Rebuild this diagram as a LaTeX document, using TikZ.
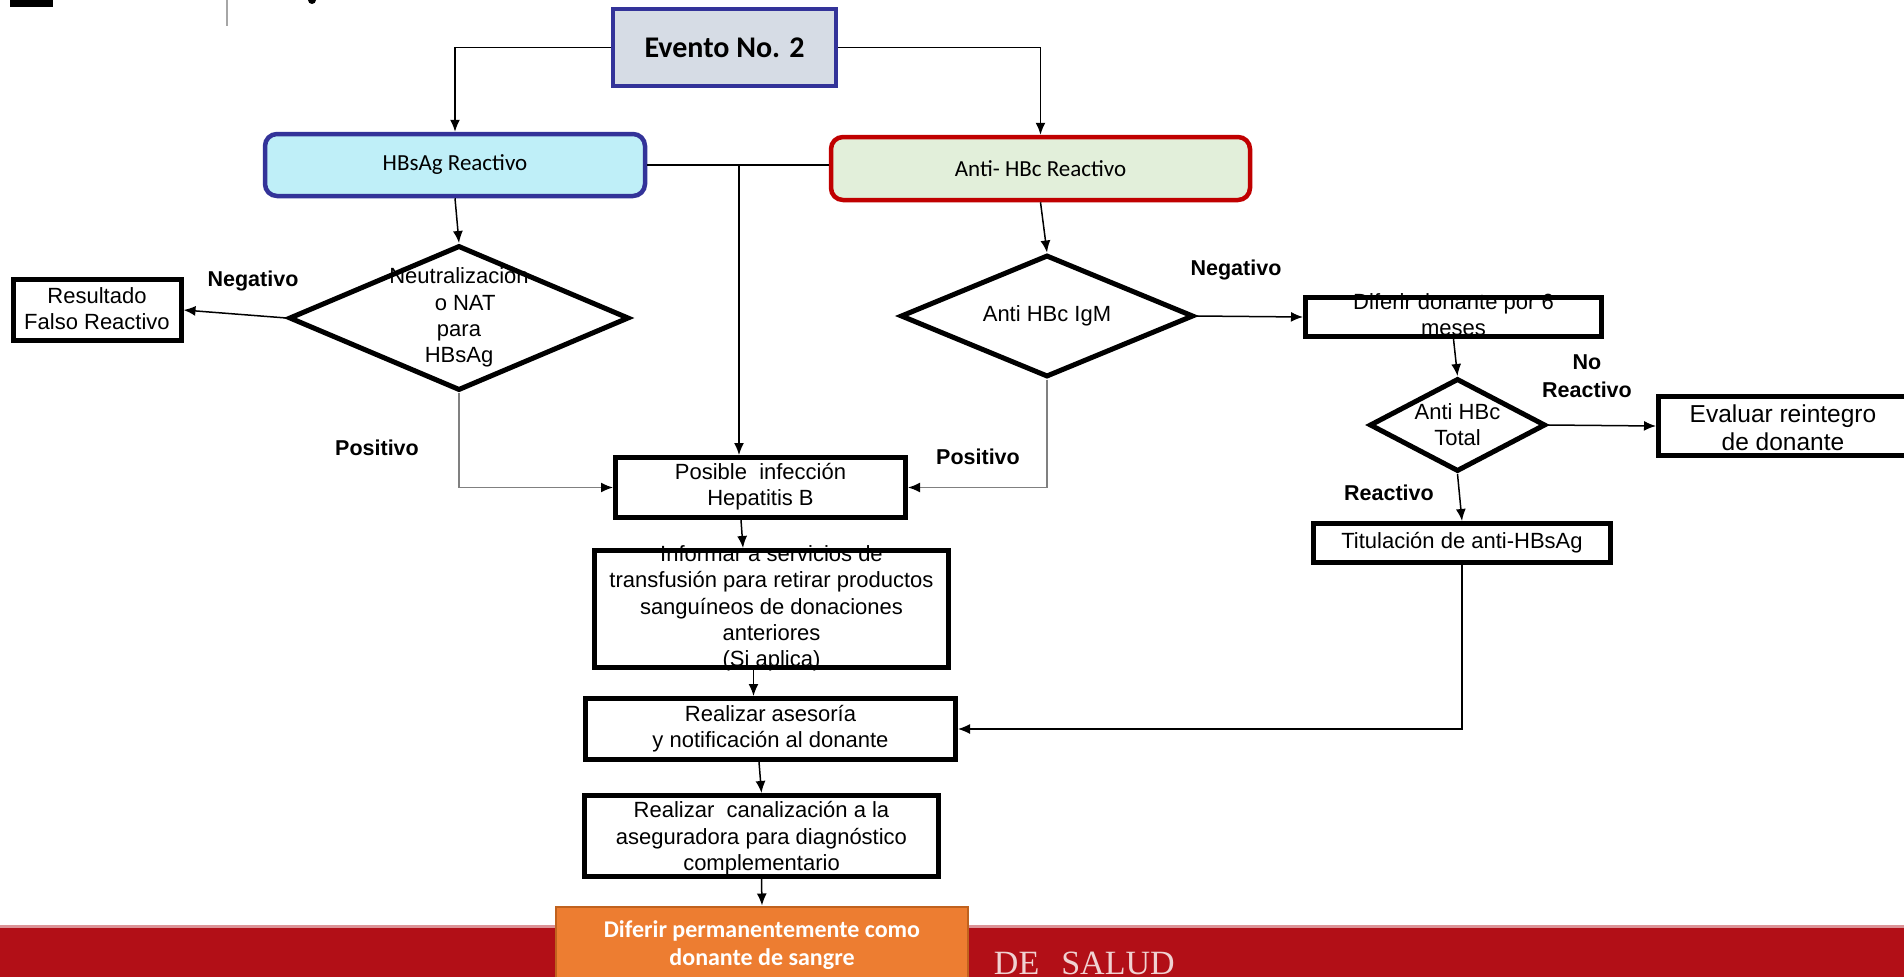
\documentclass[tikz,border=0pt]{standalone}
\usepackage{fontspec}
\setmainfont{Liberation Sans}
\newfontfamily\califont{Carlito}
\newfontfamily\serifont{Liberation Serif}
\usetikzlibrary{shapes.geometric,arrows.meta}
\definecolor{eventoblue}{HTML}{333399}
\definecolor{eventofill}{HTML}{D6DCE5}
\definecolor{hbsfill}{HTML}{BFEFF8}
\definecolor{antired}{HTML}{C00000}
\definecolor{antifill}{HTML}{E2EFDA}
\definecolor{orangefill}{HTML}{ED7D31}
\definecolor{orangeline}{HTML}{C0621E}
\definecolor{bannerred}{HTML}{B20F17}
\definecolor{bannertext}{HTML}{F0D2D2}
\newcommand{\boxlines}[2][0pt]{\raisebox{#1}[0pt][0pt]{\vbox to 0pt{\vss\hbox{\begin{tabular}{@{}c@{}}#2\end{tabular}}\vss}}}
\tikzset{
	proc/.style={draw, line width=5pt, fill=white, inner sep=0pt, font=\fontsize{22}{26.3}\selectfont},
	decision/.style={draw, diamond, aspect=2, line width=5pt, fill=white, inner sep=0pt, font=\fontsize{22}{26.3}\selectfont},
	tag/.style={inner sep=0pt, font=\bfseries\fontsize{21.5}{27.5}\selectfont},
	link/.style={line width=1.5pt, -{Latex[length=12pt,width=10pt]}},
	graylink/.style={line width=1.5pt, draw=black!50, -{Latex[length=12pt,width=10pt,color=black]}}
}
\begin{document}
\begin{tikzpicture}[x=1pt, y=-1pt]
				\path[use as bounding box, fill=white] (0,0) rectangle (1904,977);
				\clip (0,0) rectangle (1904,977);
				\fill (10,0) rectangle (53,7);
				\fill (312,0) circle (4);
				\draw[black!35, line width=1.5pt] (227,0) -- (227,26);
				\fill[bannerred!45!white] (0,925) rectangle (1904,928);
				\fill[bannerred] (0,928) rectangle (1904,977);
				\node[anchor=base west, inner sep=0pt, text=bannertext, font=\serifont\fontsize{34}{40}\selectfont] (salud) at (946,974) {L\hspace{27pt}DE\hspace{22pt}SALUD};
				\node[proc, draw=eventoblue, line width=4pt, fill=eventofill, minimum width=223, minimum height=77, font=\califont\bfseries\fontsize{30}{36}\selectfont] (evento) at (724.5,47.5) {Evento No. 2};
				\node[proc, rounded corners=12pt, draw=eventoblue, line width=4.5pt, fill=hbsfill, minimum width=380, minimum height=62, font=\califont\fontsize{23}{28}\selectfont] (hbsag) at (455,165) {HBsAg Reactivo};
				\node[proc, rounded corners=12pt, draw=antired, line width=4.5pt, fill=antifill, minimum width=419, minimum height=63, font=\califont\fontsize{23}{28}\selectfont] (antihbc) at (1040.5,168.5) {Anti- HBc Reactivo};
				\node[decision, minimum width=340, minimum height=145] (neut) at (459,318) {\boxlines{Neutralización\\\ \ o NAT\\para\\HBsAg}};
				\node[proc, minimum width=168, minimum height=61] (falso) at (97,310) {\boxlines[-1.5pt]{Resultado\\Falso Reactivo}};
				\node[proc, minimum width=290, minimum height=60] (posible) at (760.5,487.5) {\boxlines{Posible\ \ infección\\Hepatitis B}};
				\node[proc, minimum width=354, minimum height=117] (informar) at (771.5,609) {\boxlines{Informar a servicios de\\transfusión para retirar productos\\sanguíneos de donaciones\\anteriores\\(Si aplica)}};
				\node[proc, minimum width=370, minimum height=61] (asesoria) at (770.5,729) {\boxlines{Realizar asesoría\\y notificación al donante}};
				\node[proc, minimum width=354, minimum height=81] (canal) at (761.5,836) {\boxlines[-3pt]{Realizar\ \ canalización a la\\aseguradora para diagnóstico\\complementario}};
				\node[decision, minimum width=293, minimum height=122] (igm) at (1047,316) {\boxlines{Anti HBc IgM}};
				\node[proc, minimum width=296, minimum height=39] (diferir) at (1453.5,317) {\boxlines{Diferir donante por 6\\meses}};
				\node[decision, minimum width=176, minimum height=93] (total) at (1457.5,425) {\boxlines[-2pt]{Anti HBc\\Total}};
				\node[proc, minimum width=249, minimum height=59, font=\fontsize{24.5}{28}\selectfont] (evaluar) at (1783,426) {\boxlines[-5pt]{Evaluar reintegro\\de donante}};
				\node[proc, minimum width=297, minimum height=39] (titul) at (1462,543) {Titulación de anti-HBsAg};
				\node[draw=orangeline, line width=2pt, fill=orangefill, inner sep=0pt, minimum width=412, minimum height=78, text=white, font=\califont\bfseries\fontsize{24}{28}\selectfont] (permanente) at (762,945.5) {\boxlines{Diferir permanentemente como\\donante de sangre}};
				\node[tag] (negizq) at (253,281) {Negativo};
				\node[tag] (posizq) at (377,448) {Positivo};
				\node[tag] (negder) at (1236,270) {Negativo};
				\node[tag] (posder) at (978,457) {Positivo};
				\node[tag] (noreac) at (1587,378) {\boxlines{No\\Reactivo}};
				\node[tag] (reac) at (1389,493) {Reactivo};
				\coordinate (split) at (739,165);
				\draw[link] (evento.west) -| (hbsag.north);
				\draw[link] (evento.east) -| (antihbc.north);
				\draw[line width=1.5pt] (hbsag.east) -- (hbsag.east -| antihbc.west);
				\draw[link] (split) -- (split |- posible.north);
				\draw[link] (hbsag.south) -- (neut.north);
				\draw[link] (neut.west) -- (falso.east);
				\draw[graylink] (neut.south) |- (posible.west);
				\draw[link] (antihbc.south) -- (igm.north);
				\draw[link] (igm.east) -- (diferir.west);
				\draw[graylink] (igm.south) |- (posible.east);
				\draw[link] (diferir.south) -- (total.north);
				\draw[link] (total.east) -- (evaluar.west);
				\draw[link] (total.south) -- (titul.north);
				\draw[link, line width=1.2pt] (titul.south) |- (asesoria.east);
				\draw[link] ([xshift=-19.5pt]posible.south) -- ([xshift=-28.5pt]informar.north);
				\draw[link] ([xshift=-18pt]informar.south) -- ([xshift=-17pt]asesoria.north);
				\draw[link] ([xshift=-11.5pt]asesoria.south) -- (canal.north);
				\draw[link] (canal.south) -- (permanente.north);
\end{tikzpicture}
\end{document}
